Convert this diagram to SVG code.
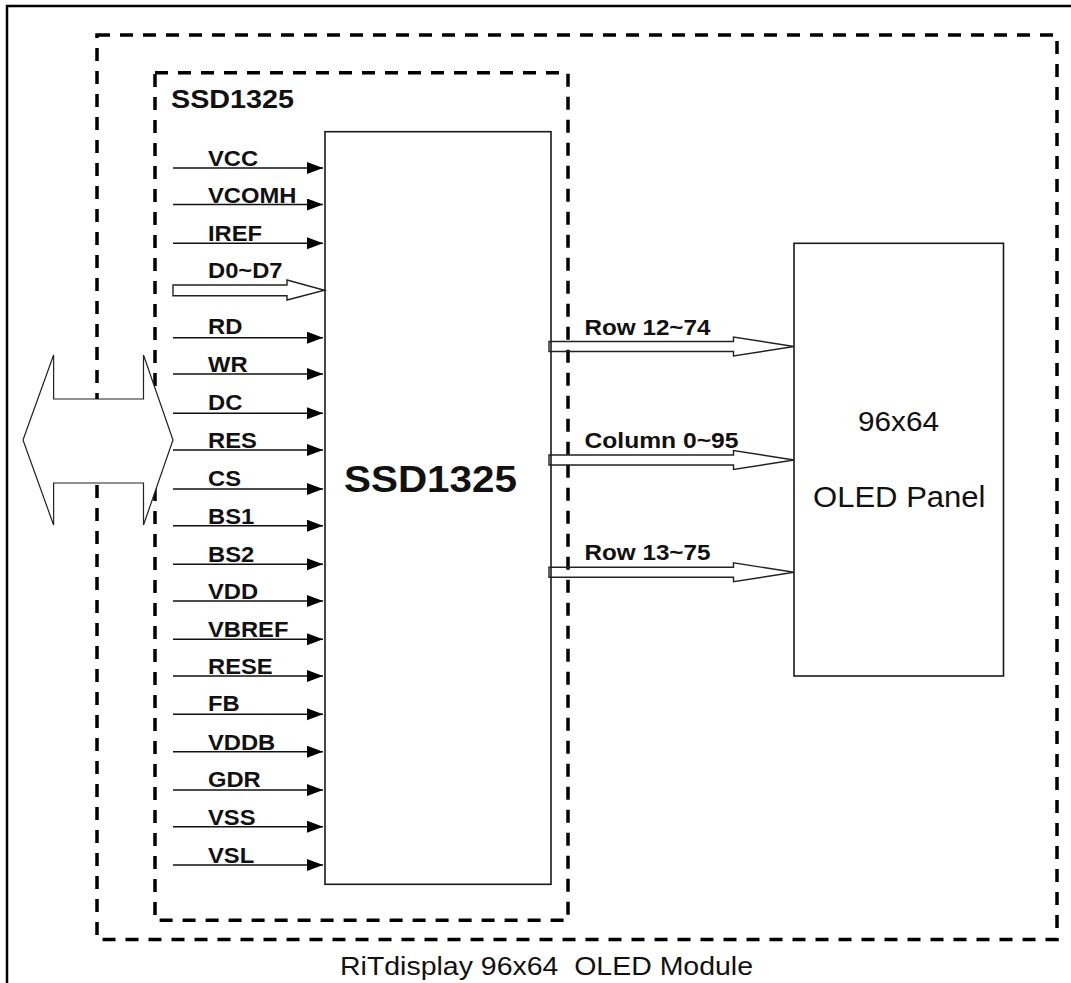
<svg xmlns="http://www.w3.org/2000/svg" width="1071" height="983" viewBox="0 0 1071 983">
<style>
  .dash { fill: none; stroke: #000; stroke-width: 3.5; stroke-dasharray: 13 10; }
  .box { fill: none; stroke: #1a1a1a; stroke-width: 1.6; }
  .sig { stroke: #111; stroke-width: 1.6; fill: none; }
  .hollow { fill: none; stroke: #222; stroke-width: 1.4; }
  .lbl { font-family: "Liberation Sans", Arial, sans-serif; font-weight: bold; font-size: 22px; fill: #111; }
  .reg { font-family: "Liberation Sans", Arial, sans-serif; fill: #111; }
</style>
<defs>
  <marker id="ah" markerUnits="userSpaceOnUse" markerWidth="17" markerHeight="13" refX="16" refY="6" orient="auto">
    <path d="M0,0 L16,6 L0,12 z" fill="#000"/>
  </marker>
</defs>
<rect x="0" y="0" width="1071" height="983" fill="#fff"/>
<g id="frame">
  <path d="M7,983 L7,6 L1071,6" fill="none" stroke="#000" stroke-width="2.5"/>
</g>
<g id="module">
  <rect class="dash" x="97" y="35" width="960" height="904.5"/>
  <text class="reg" x="340" y="975" font-size="25" textLength="413" lengthAdjust="spacingAndGlyphs" xml:space="preserve">RiTdisplay 96x64  OLED Module</text>
</g>
<g id="controller">
  <rect class="dash" x="155" y="72.7" width="413" height="847.6"/>
  <text class="lbl" x="171" y="108" textLength="123" lengthAdjust="spacingAndGlyphs" style="font-size:25.5px">SSD1325</text>
</g>
<g id="chip">
  <rect class="box" x="325" y="131.7" width="226" height="752.6" fill="#fff"/>
  <text class="lbl" x="344" y="491.7" style="font-size:37px" textLength="173" lengthAdjust="spacingAndGlyphs">SSD1325</text>
</g>
<g id="panel">
  <rect class="box" x="794" y="243.3" width="209.5" height="432.7"/>
  <text class="reg" x="858" y="431" font-size="27" textLength="81" lengthAdjust="spacingAndGlyphs">96x64</text>
  <text class="reg" x="813" y="506.7" font-size="29" textLength="172.5" lengthAdjust="spacingAndGlyphs">OLED Panel</text>
</g>
<g id="host-bus">
  <polygon points="23,440 53.6,355 53.6,399 143.5,399 143.5,355 173,440 143.5,525 143.5,483 53.6,483 53.6,525" fill="#fff" stroke="#222" stroke-width="1.2"/>
</g>
<g id="connectors">
  <line class="sig" x1="173" y1="168" x2="323" y2="168" marker-end="url(#ah)"/>
  <line class="sig" x1="173" y1="204.5" x2="323" y2="204.5" marker-end="url(#ah)"/>
  <line class="sig" x1="173" y1="243.3" x2="323" y2="243.3" marker-end="url(#ah)"/>
  <polygon class="hollow" points="173,285 287,285 287,280 324.5,290.3 287,300 287,295.7 173,295.7"/>
  <line class="sig" x1="173" y1="337.7" x2="323" y2="337.7" marker-end="url(#ah)"/>
  <line class="sig" x1="173" y1="374" x2="323" y2="374" marker-end="url(#ah)"/>
  <line class="sig" x1="173" y1="413.3" x2="323" y2="413.3" marker-end="url(#ah)"/>
  <line class="sig" x1="173" y1="450" x2="323" y2="450" marker-end="url(#ah)"/>
  <line class="sig" x1="173" y1="489" x2="323" y2="489" marker-end="url(#ah)"/>
  <line class="sig" x1="173" y1="525.7" x2="323" y2="525.7" marker-end="url(#ah)"/>
  <line class="sig" x1="173" y1="564.3" x2="323" y2="564.3" marker-end="url(#ah)"/>
  <line class="sig" x1="173" y1="601" x2="323" y2="601" marker-end="url(#ah)"/>
  <line class="sig" x1="173" y1="639.3" x2="323" y2="639.3" marker-end="url(#ah)"/>
  <line class="sig" x1="173" y1="676" x2="323" y2="676" marker-end="url(#ah)"/>
  <line class="sig" x1="173" y1="714.3" x2="323" y2="714.3" marker-end="url(#ah)"/>
  <line class="sig" x1="173" y1="751.7" x2="323" y2="751.7" marker-end="url(#ah)"/>
  <line class="sig" x1="173" y1="790" x2="323" y2="790" marker-end="url(#ah)"/>
  <line class="sig" x1="173" y1="826.7" x2="323" y2="826.7" marker-end="url(#ah)"/>
  <line class="sig" x1="173" y1="865" x2="323" y2="865" marker-end="url(#ah)"/>
  <g transform="translate(208,0) scale(1.08,1)">
    <text class="lbl" x="0" y="166.5">VCC</text>
    <text class="lbl" x="0" y="203">VCOMH</text>
    <text class="lbl" x="0" y="241.5">IREF</text>
    <text class="lbl" x="0" y="278">D0~D7</text>
    <text class="lbl" x="0" y="334.5">RD</text>
    <text class="lbl" x="0" y="372.5">WR</text>
    <text class="lbl" x="0" y="410.5">DC</text>
    <text class="lbl" x="0" y="448.5">RES</text>
    <text class="lbl" x="0" y="486">CS</text>
    <text class="lbl" x="0" y="524">BS1</text>
    <text class="lbl" x="0" y="562">BS2</text>
    <text class="lbl" x="0" y="599.5">VDD</text>
    <text class="lbl" x="0" y="637">VBREF</text>
    <text class="lbl" x="0" y="674.5">RESE</text>
    <text class="lbl" x="0" y="711">FB</text>
    <text class="lbl" x="0" y="750">VDDB</text>
    <text class="lbl" x="0" y="786.7">GDR</text>
    <text class="lbl" x="0" y="825">VSS</text>
    <text class="lbl" x="0" y="862.7">VSL</text>
  </g>
  <polygon class="hollow" points="549,341.5 733.5,341.5 733.5,337 794,346.5 733.5,356 733.5,351.5 549,351.5"/>
  <polygon class="hollow" points="549,455 733.5,455 733.5,450.5 794,460 733.5,469.5 733.5,465 549,465"/>
  <polygon class="hollow" points="549,567.3 733.5,567.3 733.5,562.8 794,572.3 733.5,581.8 733.5,577.3 549,577.3"/>
  <text class="lbl" x="584.5" y="335" textLength="126" lengthAdjust="spacingAndGlyphs">Row 12~74</text>
  <text class="lbl" x="584.5" y="448.3" textLength="154" lengthAdjust="spacingAndGlyphs">Column 0~95</text>
  <text class="lbl" x="584.5" y="560" textLength="126" lengthAdjust="spacingAndGlyphs">Row 13~75</text>
</g>
</svg>
